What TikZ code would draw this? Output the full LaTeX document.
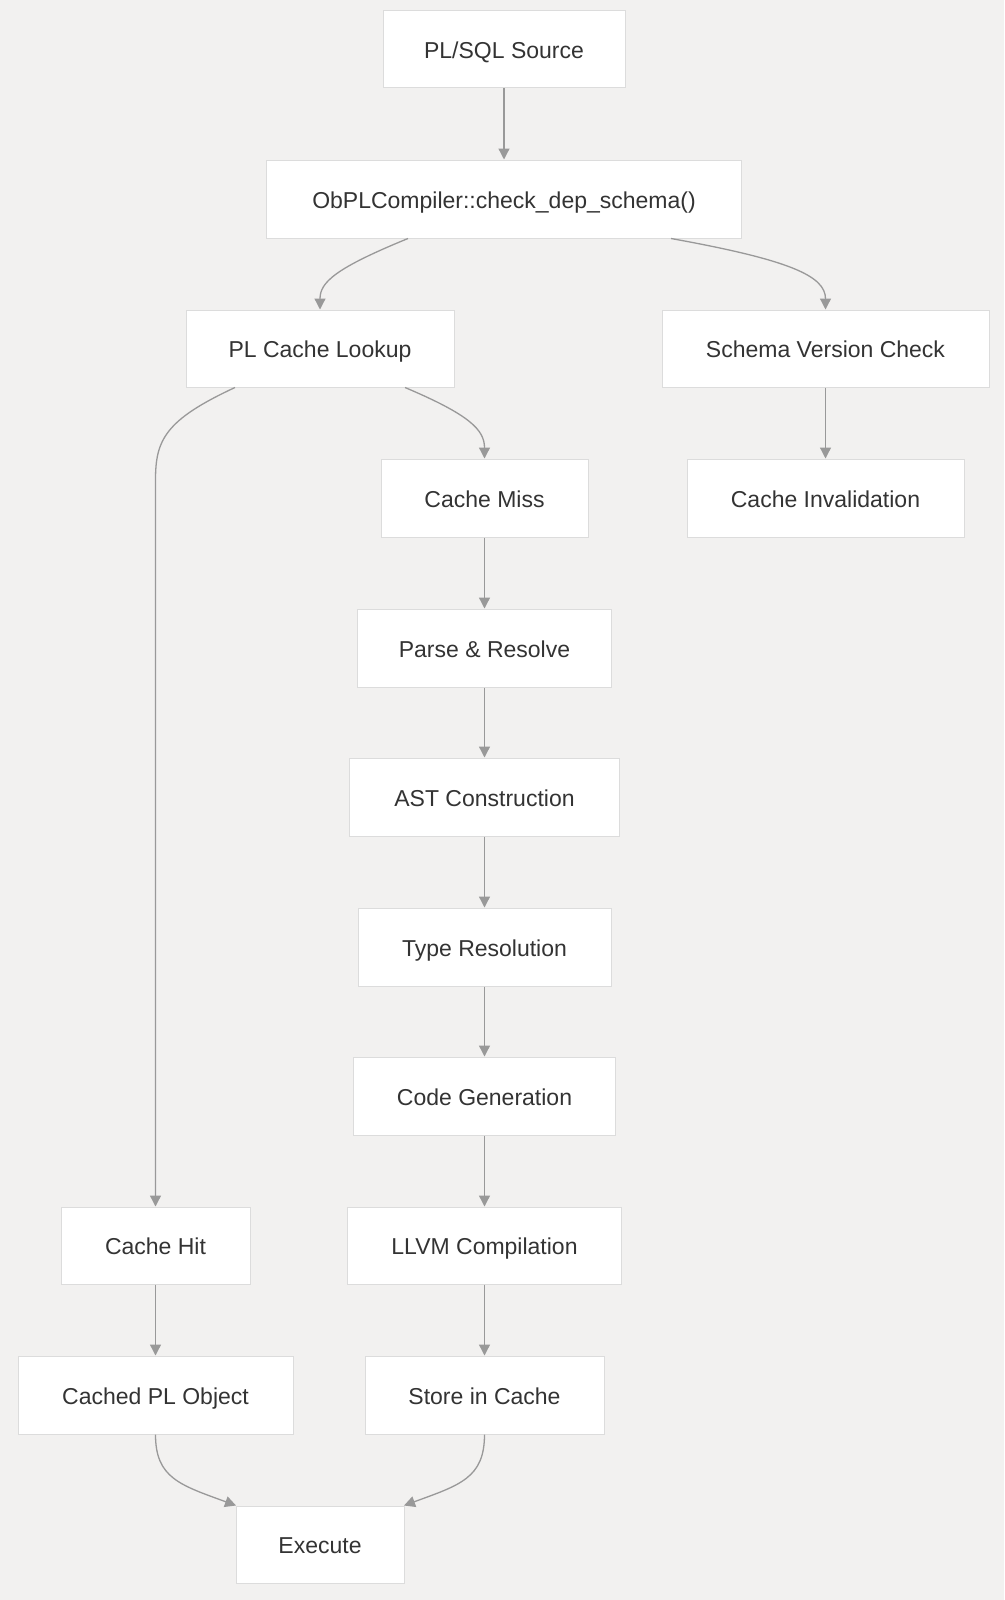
\documentclass[tikz,border=0pt]{standalone}
\usepackage{fontspec}
\setmainfont{Liberation Sans}
\usetikzlibrary{arrows.meta}
\definecolor{bgc}{HTML}{F2F1F0}
\definecolor{boxline}{HTML}{DCDCDC}
\definecolor{arrc}{HTML}{999999}
\definecolor{txt}{HTML}{333333}
\tikzset{
  box/.style={draw=boxline, line width=1pt, fill=white, inner sep=0pt, text=txt,
    text height=19.5pt, text depth=1.5pt,
    font=\fontsize{23}{27}\selectfont},
  conn/.style={draw=arrc, line width=1.3pt, -{Triangle[length=11pt,width=11pt]}},
}
\begin{document}
\begin{tikzpicture}[x=1pt,y=-1pt]
\path[fill=bgc] (0,0) rectangle (1004,1600);
\useasboundingbox (0,0) rectangle (1004,1600);

\node[box, minimum width=242pt, minimum height=77pt] (src) at (504,49.5) {PL/SQL Source};
\node[box, minimum width=475pt, minimum height=78pt] (comp) at (504,199) {ObPLCompiler::check\_dep\_schema()};
\node[box, minimum width=268pt, minimum height=77pt] (pcl) at (320,348.5) {PL Cache Lookup};
\node[box, minimum width=327pt, minimum height=77pt] (svc) at (825.5,348.5) {Schema Version Check};
\node[box, minimum width=207pt, minimum height=78pt] (miss) at (484.5,498) {Cache Miss};
\node[box, minimum width=277pt, minimum height=78pt] (inv) at (825.5,498) {Cache Invalidation};
\node[box, minimum width=254pt, minimum height=78pt] (parse) at (484.5,648) {Parse \& Resolve};
\node[box, minimum width=270pt, minimum height=78pt] (ast) at (484.5,797) {AST Construction};
\node[box, minimum width=253pt, minimum height=78pt] (type) at (484.5,947) {Type Resolution};
\node[box, minimum width=262pt, minimum height=78pt] (code) at (484.5,1096) {Code Generation};
\node[box, minimum width=274pt, minimum height=77pt] (llvm) at (484.5,1245.5) {LLVM Compilation};
\node[box, minimum width=189pt, minimum height=77pt] (hit) at (155.5,1245.5) {Cache Hit};
\node[box, minimum width=275pt, minimum height=78pt] (cpo) at (155.5,1395) {Cached PL Object};
\node[box, minimum width=239pt, minimum height=78pt] (store) at (484.5,1395) {Store in Cache};
\node[box, minimum width=168pt, minimum height=77pt] (exec) at (320,1544.5) {Execute};

\draw[conn] (src.south) -- (comp.north);
\draw[conn] ([xshift=-96pt]comp.south) .. controls (336,268) and (320,282) .. (pcl.north);
\draw[conn] ([xshift=167pt]comp.south) .. controls (790,260) and (825.5,276) .. (svc.north);
\draw[conn] ([xshift=-85pt]pcl.south) .. controls (165,420) and (155.5,440) .. (155.5,480) -- (hit.north);
\draw[conn] ([xshift=85pt]pcl.south) .. controls (470,415) and (484.5,430) .. (miss.north);
\draw[conn] (svc.south) -- (inv.north);
\draw[conn] (miss.south) -- (parse.north);
\draw[conn] (parse.south) -- (ast.north);
\draw[conn] (ast.south) -- (type.north);
\draw[conn] (type.south) -- (code.north);
\draw[conn] (code.south) -- (llvm.north);
\draw[conn] (llvm.south) -- (store.north);
\draw[conn] (hit.south) -- (cpo.north);
\draw[conn] (cpo.south) .. controls (155.5,1478) and (180,1485) .. ([xshift=-84pt]exec.north);
\draw[conn] (store.south) .. controls (484.5,1478) and (460,1485) .. ([xshift=84pt]exec.north);
\end{tikzpicture}
\end{document}
